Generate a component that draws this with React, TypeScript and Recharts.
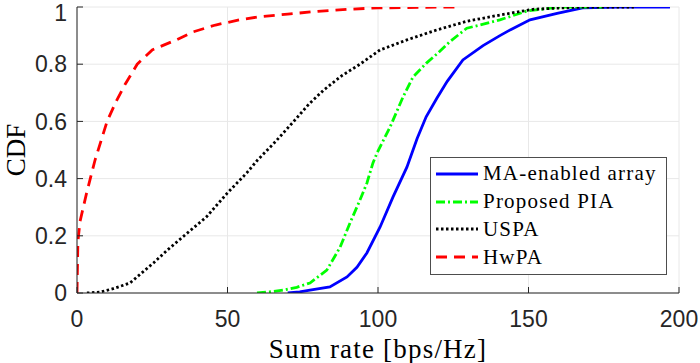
import { CartesianGrid, Legend, Line, LineChart, XAxis, YAxis } from 'recharts'

// CDF of the sum rate for four array schemes

const xTicks = [0, 50, 100, 150, 200]
const yTicks = [0, 0.2, 0.4, 0.6, 0.8, 1]

const maX = [70, 74, 77.4, 84, 89.7, 93, 96.3, 100.7, 105, 109.6, 113, 116, 119.5, 123, 128.2, 134.9, 140.5, 143.9, 150.5, 159.5, 168, 180, 197]
const maY = [0, 0.004, 0.01, 0.021, 0.056, 0.09, 0.14, 0.231, 0.336, 0.44, 0.54, 0.616, 0.68, 0.74, 0.815, 0.865, 0.9, 0.92, 0.955, 0.978, 0.997, 1, 1]

const piaX = [59.8, 64, 68.5, 73, 77.4, 83, 87.4, 90.7, 94, 96.3, 98.3, 99.7, 104, 108.3, 111.6, 116, 120, 124, 129.5, 135, 140.5, 149.5, 160.5, 175]
const piaY = [0, 0.004, 0.01, 0.02, 0.035, 0.08, 0.16, 0.245, 0.325, 0.384, 0.454, 0.49, 0.58, 0.685, 0.755, 0.803, 0.84, 0.88, 0.926, 0.94, 0.955, 0.986, 1, 1]

const uspaX = [3.3, 7.6, 12, 17.6, 25.4, 30, 35, 43, 50, 56.4, 60, 66, 72, 77, 82, 88, 94, 100.7, 109.6, 119.6, 129.5, 140.5, 151.5, 168, 185]
const uspaY = [0, 0.003, 0.015, 0.035, 0.105, 0.15, 0.195, 0.266, 0.35, 0.42, 0.465, 0.53, 0.6, 0.66, 0.71, 0.76, 0.8, 0.85, 0.885, 0.92, 0.95, 0.972, 0.992, 1, 1]

const hwX = [0, 0.3, 1, 3.2, 6, 10, 13, 16, 20, 25, 33, 38.6, 46, 54, 60, 70, 80, 90, 100, 126]
const hwY = [0, 0.18, 0.25, 0.35, 0.465, 0.6, 0.67, 0.73, 0.8, 0.85, 0.885, 0.913, 0.937, 0.955, 0.965, 0.975, 0.985, 0.992, 0.997, 1]

const zip = (xs: number[], ys: number[]) => xs.map((x, i) => ({ x, y: ys[i] }))

const series = [
  { name: 'MA-enabled array', data: zip(maX, maY), color: '#0000ff', dash: undefined },
  { name: 'Proposed PIA', data: zip(piaX, piaY), color: '#00ff00', dash: '9 3 2 3' },
  { name: 'USPA', data: zip(uspaX, uspaY), color: '#000000', dash: '2.5 2.5' },
  { name: 'HwPA', data: zip(hwX, hwY), color: '#ff0000', dash: '11 7' },
]

const serif = '"Liberation Serif", "Times New Roman", serif'
const sans = '"Liberation Sans", Arial, sans-serif'
const axisColor = '#262626'
const tickStyle = { fill: axisColor, fontSize: 23, fontFamily: sans }

function LegendBox() {
  return (
    <div
      style={{
        position: 'absolute',
        left: 430,
        top: 157,
        width: 235,
        height: 114,
        border: '1px solid #4d4d4d',
        background: '#fff',
        paddingTop: 2,
        boxSizing: 'content-box',
      }}
    >
      {series.map((s) => (
        <div key={s.name} style={{ display: 'flex', alignItems: 'center', height: 27.8 }}>
          <svg width={52} height={10} style={{ flex: 'none' }}>
            <line x1={5} y1={5} x2={47} y2={5} stroke={s.color} strokeWidth={2.8} strokeDasharray={s.dash} />
          </svg>
          <span style={{ fontFamily: serif, fontSize: 21, letterSpacing: 1.2, color: '#000', lineHeight: 1, whiteSpace: 'nowrap' }}>
            {s.name}
          </span>
        </div>
      ))}
    </div>
  )
}

export default function App() {
  return (
    <div style={{ position: 'absolute', left: 0, top: 0, width: 700, height: 363, background: '#fff' }}>
      <LineChart width={700} height={363} margin={{ top: 7, right: 21, left: 17, bottom: 30 }}>
        <CartesianGrid stroke="#e8e8e8" strokeWidth={1} />
        <XAxis
          xAxisId={0}
          dataKey="x"
          type="number"
          domain={[0, 200]}
          ticks={xTicks}
          allowDataOverflow
          height={40}
          stroke={axisColor}
          tickSize={-6}
          tickMargin={24}
          tick={tickStyle}
          label={{ value: 'Sum rate [bps/Hz]', position: 'bottom', offset: 6, style: { fontFamily: serif, fontSize: 27, letterSpacing: 1.2, fill: '#000' } }}
        />
        <XAxis
          xAxisId="top"
          orientation="top"
          dataKey="x"
          type="number"
          domain={[0, 200]}
          ticks={xTicks}
          height={0}
          stroke={axisColor}
          tickSize={-6}
          tickFormatter={() => ''}
        />
        <YAxis
          yAxisId={0}
          type="number"
          domain={[0, 1]}
          ticks={yTicks}
          allowDataOverflow
          width={60}
          stroke={axisColor}
          tickSize={-6}
          tickMargin={16}
          tick={tickStyle}
          label={{ value: 'CDF', angle: -90, position: 'insideLeft', offset: -2, style: { fontFamily: serif, fontSize: 27, fill: '#000', textAnchor: 'middle' } }}
        />
        <YAxis
          yAxisId="right"
          orientation="right"
          type="number"
          domain={[0, 1]}
          ticks={yTicks}
          width={0}
          stroke={axisColor}
          tickSize={-6}
          tickFormatter={() => ''}
        />
        {series.map((s) => (
          <Line
            key={s.name}
            data={s.data}
            dataKey="y"
            name={s.name}
            type="linear"
            stroke={s.color}
            strokeWidth={2.8}
            strokeDasharray={s.dash}
            dot={false}
            activeDot={false}
            isAnimationActive={false}
          />
        ))}
        <Legend content={() => <LegendBox />} wrapperStyle={{ position: 'absolute', left: 0, top: 0, width: 0, height: 0 }} />
      </LineChart>
    </div>
  )
}
